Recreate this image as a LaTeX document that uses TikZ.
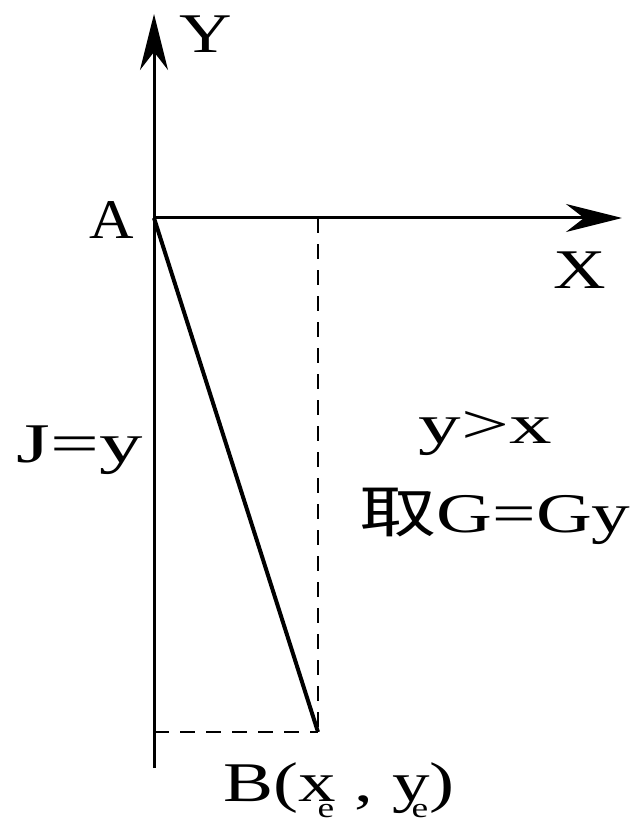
\documentclass[tikz,border=0pt]{standalone}
\usepackage{fontspec}
\setmainfont{Liberation Serif}
\newfontfamily\cjk{Noto Sans CJK SC}
\usetikzlibrary{arrows.meta}
\newcommand{\wide}[2]{\scalebox{#1}[1]{#2}}
\newcommand{\sube}[1]{#1\makebox[0pt][r]{\raisebox{-0.3em}{\fontsize{28}{28}\selectfont e}\kern0.02em}}
\tikzset{
  axis/.style={line width=3pt,-{Stealth[length=56pt,width=28pt,inset=18pt]}},
  guide/.style={line width=2.2pt,dash pattern=on 15pt off 11pt},
  seg/.style={line width=4pt},
  lab/.style={font=\fontsize{56}{60}\selectfont,inner sep=0pt,anchor=base}
}
\begin{document}
\begin{tikzpicture}[x=1pt,y=-1pt]
\useasboundingbox[fill=white] (0,0) rectangle (636,826);
\coordinate (O) at (154,768);
\coordinate (ytop) at (154,14);
\coordinate (A) at (154,218);
\coordinate (xend) at (622,218);
\coordinate (B) at (318,732);
\coordinate (T) at (318,218);
\coordinate (L) at (154,732);
\draw[axis] (O) -- (ytop);
\draw[axis] (A) -- (xend);
\draw[guide] (T) -- (B);
\draw[guide] (L) -- (B);
\draw[seg] (A) -- (B);
\node[lab] (ylab) at (206,53) {\wide{1.3}{Y}};
\node[lab] (alab) at (112,238) {\wide{1.1}{A}};
\node[lab] (xlab) at (580,288) {\wide{1.3}{X}};
\node[lab] (jlab) at (80,462) {\wide{1.55}{J=y}};
\node[lab] (cond) at (485,443) {\wide{1.52}{y>x}};
\node[lab] (take) at (495,532) {\wide{1.38}{{\cjk 取}G=Gy}};
\node[lab] (blab) at (339,801) {\wide{1.34}{B(\sube{x} , \sube{y})}};
\end{tikzpicture}
\end{document}
